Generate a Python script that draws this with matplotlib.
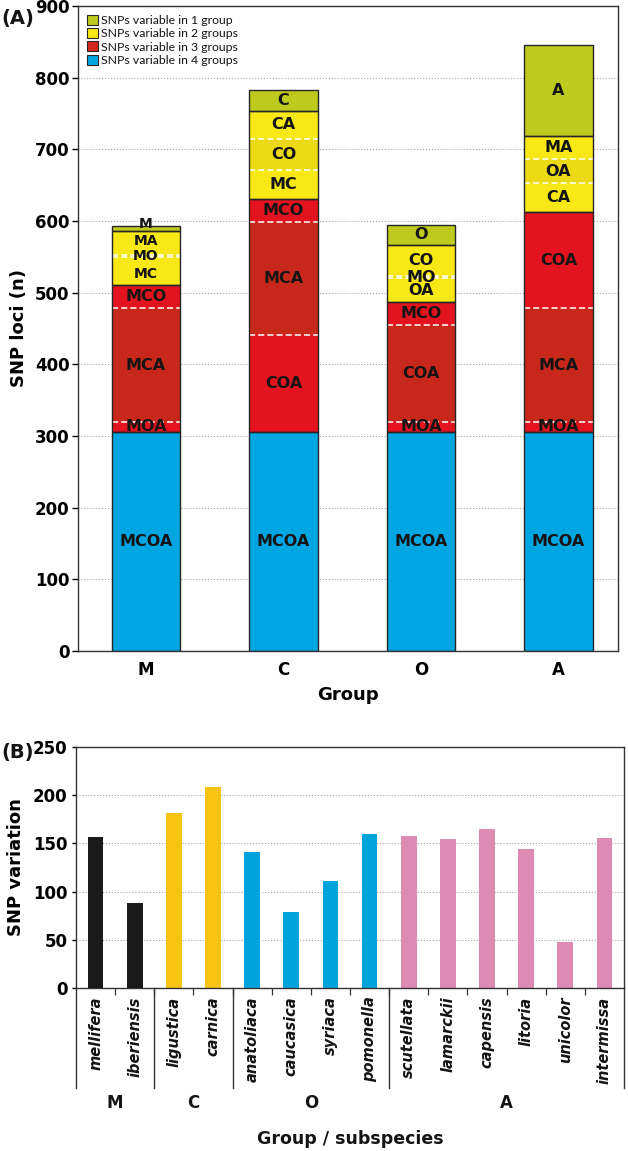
import matplotlib
matplotlib.use("Agg")
import matplotlib.pyplot as plt
import matplotlib.transforms as mtransforms
from matplotlib.patches import Patch, Rectangle

plt.rcParams["font.family"] = ["DejaVu Sans"]
plt.rcParams["text.color"] = "#141414"

# ---- panel A data: stacked SNP loci per group (bottom -> top) ----
groups = ["M", "C", "O", "A"]
m_labels = ["MCOA", "MOA", "MCA", "MCO", "MC", "MO", "MA", "M"]
m_values = [306, 14, 158, 32, 40, 3, 33, 7]
c_labels = ["MCOA", "COA", "MCA", "MCO", "MC", "CO", "CA", "C"]
c_values = [306, 135, 158, 32, 40, 43, 40, 29]
o_labels = ["MCOA", "MOA", "COA", "MCO", "OA", "MO", "CO", "O"]
o_values = [306, 14, 135, 32, 33, 3, 43, 29]
a_labels = ["MCOA", "MOA", "MCA", "COA", "CA", "OA", "MA", "A"]
a_values = [306, 14, 158, 135, 40, 33, 33, 126]
legend_labels = ["SNPs variable in 1 group", "SNPs variable in 2 groups",
                 "SNPs variable in 3 groups", "SNPs variable in 4 groups"]

# ---- panel B data: SNP variation per subspecies ----
subspecies = ["mellifera", "iberiensis", "ligustica", "carnica", "anatoliaca",
              "caucasica", "syriaca", "pomonella", "scutellata", "lamarckii",
              "capensis", "litoria", "unicolor", "intermissa"]
sub_group = ["M", "M", "C", "C", "O", "O", "O", "O", "A", "A", "A", "A", "A", "A"]
snp_variation = [157, 88, 182, 208, 141, 79, 111, 160, 158, 155, 165, 144, 48, 156]

# styles
cat_colors = {1: ["#bfca1e"], 2: ["#f8e815", "#ecda14"],
              3: ["#e3141f", "#c8281c"], 4: ["#00a6e2"]}
legend_colors = ["#bfca1e", "#f8e815", "#d4281e", "#00a6e2"]
group_colors = {"M": "#1a1a1a", "C": "#f7c414", "O": "#00a3da", "A": "#de8bb4"}
label_nudge = {("M", "M"): 6, ("M", "MC"): -4, ("M", "MA"): 2}
edge = "#262626"
num_font = ["Liberation Sans Narrow", "DejaVu Sans"]

fig = plt.figure(figsize=(6.28, 11.51), dpi=100)

# ================= panel A =================
ax = fig.add_axes([0.1242, 0.4344, 0.8599, 0.5604])
bar_w = 0.5
stacks = [(m_labels, m_values), (c_labels, c_values),
          (o_labels, o_values), (a_labels, a_values)]
for xi, (g, (labs, vals)) in enumerate(zip(groups, stacks)):
    bottom = 0
    block_start, block_cat, idx_in_block = 0, None, 0
    blocks = []
    for lab, v in zip(labs, vals):
        cat = len(lab)
        if cat != block_cat:
            if block_cat is not None:
                blocks.append((block_start, bottom))
            block_start, block_cat, idx_in_block = bottom, cat, 0
        else:
            # internal boundary between segments of the same category
            ax.plot([xi - bar_w / 2, xi + bar_w / 2], [bottom, bottom],
                    color="white", lw=1.1, ls=(0, (4, 2)), zorder=4)
            idx_in_block += 1
        cols = cat_colors[cat]
        ax.bar(xi, v, bottom=bottom, width=bar_w,
               color=cols[idx_in_block % len(cols)], lw=0, zorder=2)
        small = g == "M" and cat <= 2
        ax.text(xi, bottom + v / 2 + label_nudge.get((g, lab), 0), lab,
                ha="center", va="center", fontsize=10 if small else 11.5,
                fontweight="bold", color="#141414", zorder=6)
        bottom += v
    blocks.append((block_start, bottom))
    for y0, y1 in blocks:
        ax.add_patch(Rectangle((xi - bar_w / 2, y0), bar_w, y1 - y0,
                               fill=False, ec=edge, lw=1.0, zorder=5))

ax.set_xlim(-0.495, 3.433)
ax.set_ylim(0, 900)
ax.set_yticks(range(0, 901, 100))
ax.set_xticks(range(len(groups)))
ax.set_xticklabels(groups, fontsize=12, fontweight="bold")
ax.tick_params(axis="x", length=0, pad=7)
ax.tick_params(axis="y", length=4, width=1.0, pad=2)
for t in ax.get_yticklabels():
    t.set_fontfamily(num_font)
    t.set_fontweight("bold")
    t.set_fontsize(12)
ax.yaxis.grid(True, ls=":", color="#a8a8a8", lw=0.8)
ax.set_axisbelow(True)
for s in ax.spines.values():
    s.set_linewidth(1.0)
    s.set_color("#333333")
ax.set_ylabel("SNP loci (n)", fontsize=13, fontweight="bold", labelpad=5)
ax.set_xlabel("Group", fontsize=13, fontweight="bold", labelpad=5)

handles = [Patch(facecolor=c, edgecolor=edge, lw=0.8) for c in legend_colors]
ax.legend(handles, legend_labels, loc="upper left", frameon=False,
          prop={"family": ["Lato", "DejaVu Sans"], "size": 8.8},
          handlelength=0.9, handleheight=0.9,
          handletextpad=0.3, labelspacing=0.17, borderaxespad=0.5,
          borderpad=0.2)
fig.text(0.002, 0.984, "(A)", fontsize=14, fontweight="bold", va="center")

# ================= panel B =================
bx = fig.add_axes([0.121, 0.1416, 0.8726, 0.2094])
xs = list(range(len(subspecies)))
bx.bar(xs, snp_variation, width=0.4,
       color=[group_colors[g] for g in sub_group], zorder=2)
bx.set_xlim(-0.5, len(subspecies) - 0.5)
bx.set_ylim(0, 250)
bx.set_yticks(range(0, 251, 50))
for t in bx.get_yticklabels():
    t.set_fontfamily(num_font)
    t.set_fontweight("bold")
    t.set_fontsize(12)
bx.tick_params(axis="y", length=3, width=1.0, pad=3)
bx.set_xticks([i + 0.5 for i in xs[:-1]])
bx.set_xticklabels([])
bx.tick_params(axis="x", length=5, width=0.9, color="#333333")
bx.yaxis.grid(True, ls=":", color="#a8a8a8", lw=0.8)
bx.set_axisbelow(True)
for s in bx.spines.values():
    s.set_linewidth(1.0)
    s.set_color("#333333")

trans = mtransforms.blended_transform_factory(bx.transData, bx.transAxes)
for x, name in zip(xs, subspecies):
    bx.text(x, -0.035, name, transform=trans, rotation=90, ha="center",
            va="top", fontsize=10.5, fontweight="bold", fontstyle="italic")

# group separators below the axis
bounds = [-0.5]
for i in range(1, len(sub_group)):
    if sub_group[i] != sub_group[i - 1]:
        bounds.append(i - 0.5)
bounds.append(len(sub_group) - 0.5)
for b in bounds:
    bx.plot([b, b], [0, -0.415], transform=trans, color="#333333", lw=1.0,
            clip_on=False)
for a, b in zip(bounds[:-1], bounds[1:]):
    g = sub_group[int(a + 0.5)]
    bx.text((a + b) / 2, -0.475, g, transform=trans, ha="center", va="center",
            fontsize=12, fontweight="bold")
bx.text(0.5, -0.625, "Group / subspecies", transform=bx.transAxes,
        ha="center", va="center", fontsize=12.5, fontweight="bold")
bx.set_ylabel("SNP variation", fontsize=13, fontweight="bold", labelpad=6)
fig.text(0.002, 0.346, "(B)", fontsize=14, fontweight="bold", va="center")

fig.savefig("out.png", dpi=100)
